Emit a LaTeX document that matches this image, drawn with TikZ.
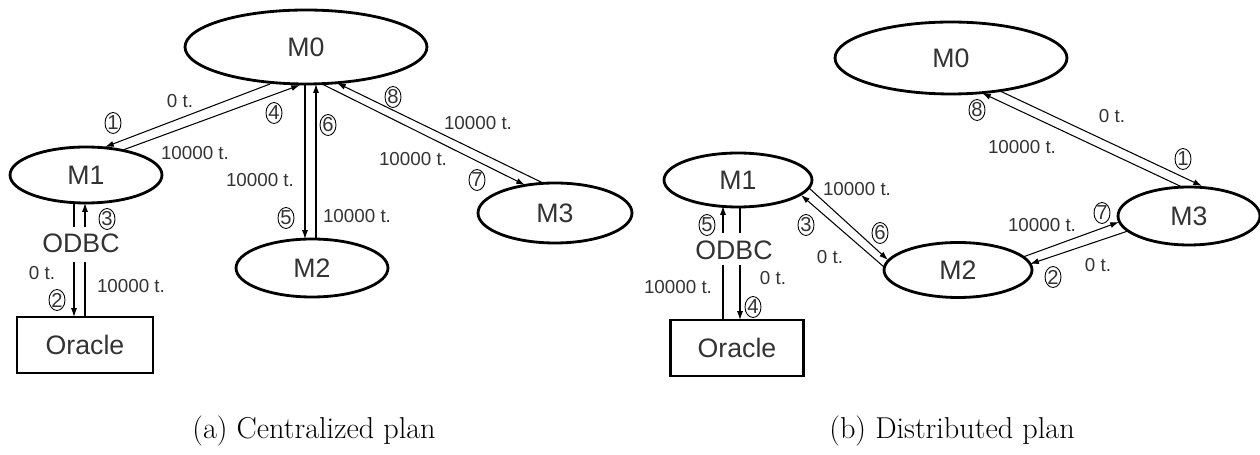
\documentclass[tikz,border=0pt]{standalone}
\usepackage{fontspec}
\newfontfamily\diagfont{Liberation Sans}
\usetikzlibrary{shapes.geometric,arrows.meta,calc}

\begin{document}
\begin{tikzpicture}[x=0.02cm,y=-0.02cm,
  mach/.style={ellipse,draw,line width=1.6pt,inner sep=0pt,text=black!80,font=\fontsize{15.2}{18}\diagfont},
  db/.style={rectangle,draw,line width=1.6pt,inner sep=0pt,text=black!80,font=\fontsize{15.2}{18}\diagfont},
  odbc/.style={inner sep=0pt,text=black!80,font=\fontsize{15.2}{18}\diagfont},
  lbl/.style={inner sep=0pt,text=black!80,font=\fontsize{10.7}{13}\diagfont},
  num/.style={ellipse,draw,line width=0.5pt,inner sep=0pt,minimum width=0.32cm,minimum height=0.42cm,text=black!80,font=\fontsize{11.5}{13}\diagfont},
  msg/.style={line width=0.6pt,-{Latex[length=5pt,width=3.4pt]}},
  wire/.style={line width=0.6pt}]
\useasboundingbox (0,0) rectangle (1260,455);

% (a) centralized plan
\node[mach,minimum width=4.84cm,minimum height=1.48cm] (m0a) at (306,47) {M0};
\node[mach,minimum width=3.04cm,minimum height=1.12cm] (m1a) at (86,175) {M1};
\node[mach,minimum width=3.04cm,minimum height=1.16cm] (m2a) at (312,268) {M2};
\node[mach,minimum width=3.08cm,minimum height=1.2cm] (m3a) at (555,213) {M3};
\node[db,minimum width=2.72cm,minimum height=1.12cm] (ora) at (85,345) {Oracle};
\node[odbc] (odbca) at (81,243) {ODBC};

\draw[msg] ($(m0a)+(-36,37)$) -- ($(m1a)+(19,-28)$);
\draw[msg] ($(m1a)+(37,-25)$) -- ($(m0a)+(-6,38)$);
\draw[msg] ($(m0a)+(-1,37)$) -- ($(m2a)+(-7,-29)$);
\draw[msg] ($(m2a)+(4,-29)$) -- ($(m0a)+(10,37)$);
\draw[msg] ($(m0a)+(16,37)$) -- ($(m3a)+(-30,-28)$);
\draw[msg] ($(m3a)+(-12,-30)$) -- ($(m0a)+(31,36)$);
\draw[wire] ($(m1a)+(-12,28)$) -- ($(odbca)+(-7,-16)$);
\draw[msg] ($(odbca)+(4,-16)$) -- ($(m1a)+(-1,28)$);
\draw[msg] ($(odbca)+(-7,19)$) -- ($(ora)+(-11,-28)$);
\draw[wire] ($(odbca)+(4,19)$) -- ($(ora)+(0,-28)$);

\node[lbl] (la1) at (180,101) {0 t.};
\node[num] (na1) at (113,123) {1};
\node[num] (na4) at (274,113) {4};
\node[lbl] (la2) at (195,153) {10000 t.};
\node[lbl] (la3) at (260,180) {10000 t.};
\node[num] (na5) at (286,218) {5};
\node[num] (na6) at (328,125) {6};
\node[lbl] (la4) at (357,216) {10000 t.};
\node[num] (na8) at (393,97) {8};
\node[lbl] (la5) at (478,123) {10000 t.};
\node[lbl] (la6) at (413,159) {10000 t.};
\node[num] (na7) at (477,180) {7};
\node[num] (na3) at (107,219) {3};
\node[lbl] (la7) at (42,273) {0 t.};
\node[lbl] (la8) at (131,286) {10000 t.};
\node[num] (na2) at (57,300) {2};

% (b) distributed plan
\node[mach,minimum width=4.64cm,minimum height=1.44cm] (m0b) at (951,58) {M0};
\node[mach,minimum width=2.96cm,minimum height=1.08cm] (m1b) at (738,180) {M1};
\node[mach,minimum width=2.96cm,minimum height=1.1cm] (m2b) at (958,270) {M2};
\node[mach,minimum width=2.84cm,minimum height=1.16cm] (m3b) at (1189,216) {M3};
\node[db,minimum width=2.66cm,minimum height=1.12cm] (orb) at (737,348) {Oracle};
\node[odbc] (odbcb) at (734,250) {ODBC};

\draw[msg] ($(m0b)+(49,33)$) -- ($(m3b)+(13,-30)$);
\draw[msg] ($(m3b)+(-7,-29)$) -- ($(m0b)+(31,35)$);
\draw[msg] ($(m2b)+(-74,-3)$) -- ($(m1b)+(63,15)$);
\draw[msg] ($(m1b)+(71,8)$) -- ($(m2b)+(-70,-10)$);
\draw[msg] ($(m2b)+(65,-13)$) -- ($(m3b)+(-70,6)$);
\draw[msg] ($(m3b)+(-61,15)$) -- ($(m2b)+(72,-6)$);
\draw[msg] ($(odbcb)+(-11,-17)$) -- ($(m1b)+(-15,26)$);
\draw[wire] ($(m1b)+(2,27)$) -- ($(odbcb)+(6,-17)$);
\draw[wire] ($(odbcb)+(-11,15)$) -- ($(orb)+(-14,-28)$);
\draw[msg] ($(odbcb)+(6,15)$) -- ($(orb)+(3,-28)$);

\node[num] (nb8) at (977,110) {8};
\node[lbl] (lb1) at (1112,116) {0 t.};
\node[lbl] (lb2) at (1022,147) {10000 t.};
\node[num] (nb1) at (1183,159) {1};
\node[lbl] (lb3) at (857,189) {10000 t.};
\node[num] (nb3) at (806,225) {3};
\node[num] (nb6) at (880,233) {6};
\node[lbl] (lb4) at (830,257) {0 t.};
\node[lbl] (lb5) at (1042,225) {10000 t.};
\node[num] (nb7) at (1102,213) {7};
\node[lbl] (lb6) at (1098,265) {0 t.};
\node[num] (nb2) at (1053,277) {2};
\node[num] (nb5) at (707,225) {5};
\node[lbl] (lb7) at (678,287) {10000 t.};
\node[lbl] (lb8) at (773,278) {0 t.};
\node[num] (nb4) at (753,307) {4};

\node[font=\fontsize{17.2}{20}\selectfont] (capa) at (314,431) {(a) Centralized plan};
\node[font=\fontsize{17.2}{20}\selectfont] (capb) at (952,431) {(b) Distributed plan};

\end{tikzpicture}
\end{document}
